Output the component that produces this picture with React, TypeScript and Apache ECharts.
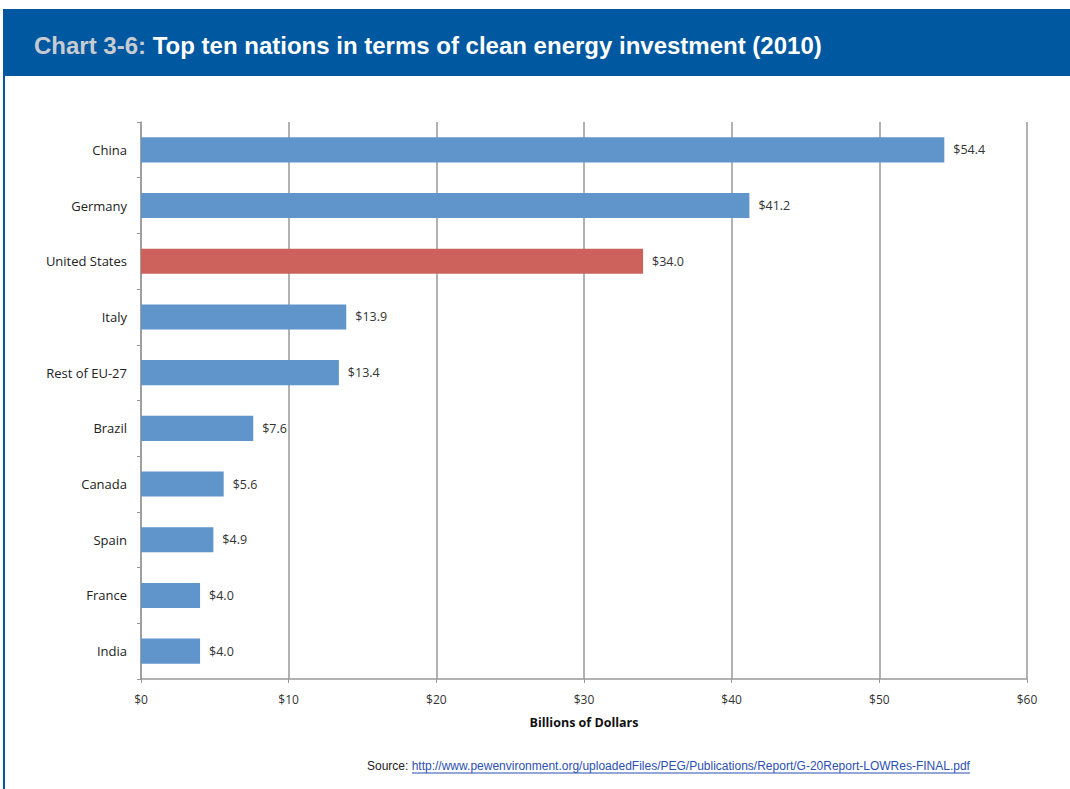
import React, { useEffect, useRef } from "react";
import * as echarts from "echarts";

const categories = ["China", "Germany", "United States", "Italy", "Rest of EU-27", "Brazil", "Canada", "Spain", "France", "India"];
const values = [54.4, 41.2, 34.0, 13.9, 13.4, 7.6, 5.6, 4.9, 4.0, 4.0];
const highlight = "United States";

export default function App() {
  const ref = useRef<HTMLDivElement>(null);
  useEffect(() => {
    const chart = echarts.init(ref.current!, null, { renderer: "svg" });
    const font = "'Open Sans', 'DejaVu Sans', sans-serif";
    const sans = "'Liberation Sans', Arial, sans-serif";
    chart.setOption({
      animation: false,
      backgroundColor: "#ffffff",
      grid: { left: 141, right: 43, top: 122, bottom: 110 },
      xAxis: {
        type: "value",
        min: 0,
        max: 60,
        interval: 10,
        name: "Billions of Dollars",
        nameLocation: "middle",
        nameGap: 37,
        nameTextStyle: { fontFamily: font, fontWeight: "bold", fontSize: 12.5, color: "#111" },
        axisLine: { show: true, lineStyle: { color: "#999", width: 1.5 } },
        axisTick: { show: true, length: 4, lineStyle: { color: "#999" } },
        axisLabel: { formatter: (v: number) => "$" + v, fontFamily: font, fontSize: 12, color: "#333", margin: 14 },
        splitLine: { show: true, lineStyle: { color: "#999", width: 1.5 } },
      },
      yAxis: {
        type: "category",
        data: categories,
        inverse: true,
        axisLine: { show: true, lineStyle: { color: "#999", width: 1.5 } },
        axisTick: { show: true, length: 4, inside: false, lineStyle: { color: "#999" } },
        axisLabel: { fontFamily: font, fontSize: 13, color: "#222", margin: 14 },
      },
      series: [
        {
          type: "bar",
          data: values.map((v, i) => ({
            value: v,
            itemStyle: { color: categories[i] === highlight ? "#cd625d" : "#5f95cb" },
          })),
          barWidth: "45%",
          label: {
            show: true,
            position: "right",
            distance: 9,
            formatter: (p: any) => "$" + p.value.toFixed(1),
            fontFamily: font,
            fontSize: 12.5,
            color: "#333",
          },
        },
      ],
      graphic: [
        { type: "rect", shape: { x: 3, y: 9, width: 1067, height: 67 }, style: { fill: "#0058a0" } },
        { type: "line", shape: { x1: 4, y1: 76, x2: 4, y2: 789 }, style: { stroke: "#0058a0", lineWidth: 2 } },
        {
          type: "text",
          x: 34,
          y: 45,
          style: {
            text: "{a|Chart 3-6: }{b|Top ten nations in terms of clean energy investment (2010)}",
            verticalAlign: "middle",
            rich: {
              a: { fontFamily: sans, fontWeight: "bold", fontSize: 24, fill: "#c8ccd2" },
              b: { fontFamily: sans, fontWeight: "bold", fontSize: 24, fill: "#ffffff" },
            },
          },
        },
        {
          type: "text",
          x: 367,
          y: 766,
          style: {
            text: "{s|Source: }{u|http://www.pewenvironment.org/uploadedFiles/PEG/Publications/Report/G-20Report-LOWRes-FINAL.pdf}",
            verticalAlign: "middle",
            rich: {
              s: { fontFamily: sans, fontSize: 12, fill: "#222" },
              u: { fontFamily: sans, fontSize: 12, fill: "#2b4fb3" },
            },
          },
        },
        { type: "line", shape: { x1: 412, y1: 773, x2: 970, y2: 773 }, style: { stroke: "#2b4fb3", lineWidth: 1 } },
      ],
    });
    return () => chart.dispose();
  }, []);
  return <div ref={ref} style={{ position: "fixed", left: 0, top: 0, width: 1070, height: 789 }} />;
}
